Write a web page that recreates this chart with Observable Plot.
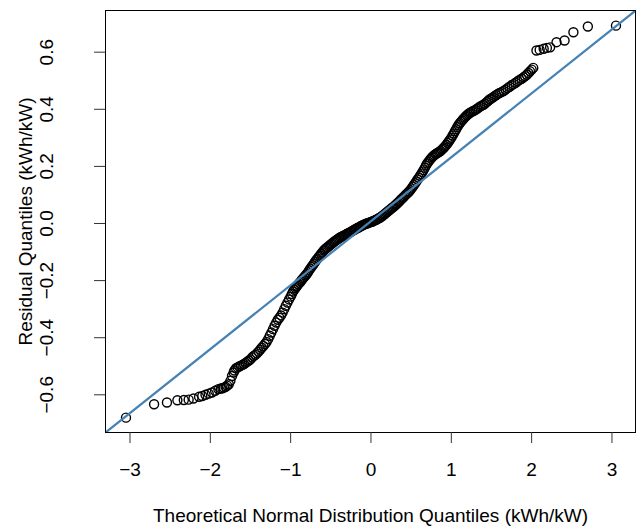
<!DOCTYPE html>
<html>
<head>
<meta charset="utf-8">
<script src="https://cdn.jsdelivr.net/npm/d3@7"></script>
<script src="https://cdn.jsdelivr.net/npm/@observablehq/plot@0.6"></script>
<style>
  html, body { margin: 0; padding: 0; background: #fff; }
  #chart svg { display: block; }
</style>
</head>
<body>
<div id="chart"></div>
<script>
// Lower tail: theoretical quantiles (x) and residual quantiles (y)
const lowTailX = [
  -3.05, -2.70, -2.54, -2.41, -2.33, -2.27, -2.21, -2.14, -2.10, -2.06,
  -2.02, -1.98, -1.94, -1.90, -1.87, -1.85, -1.83, -1.81, -1.79, -1.77,
  -1.75, -1.73, -1.71
];
const lowTailY = [
  -0.680, -0.633, -0.627, -0.619, -0.618, -0.617, -0.613, -0.607, -0.604, -0.600,
  -0.596, -0.592, -0.586, -0.580, -0.578, -0.577, -0.575, -0.572, -0.568, -0.563,
  -0.551, -0.534, -0.522
];
// Lower band
const lowBandX = [
  -1.70, -1.68, -1.66, -1.64, -1.62, -1.60, -1.58, -1.56, -1.54, -1.52,
  -1.50, -1.48, -1.46, -1.44, -1.42, -1.40, -1.38, -1.36, -1.34, -1.32,
  -1.30, -1.28, -1.26, -1.24, -1.22, -1.20, -1.18, -1.16, -1.14, -1.12,
  -1.10, -1.08, -1.06, -1.04, -1.02
];
const lowBandY = [
  -0.515, -0.507, -0.504, -0.501, -0.498, -0.495, -0.492, -0.488, -0.484, -0.480,
  -0.476, -0.469, -0.464, -0.460, -0.455, -0.449, -0.442, -0.435, -0.429, -0.422,
  -0.415, -0.405, -0.393, -0.382, -0.370, -0.358, -0.347, -0.337, -0.330, -0.322,
  -0.312, -0.300, -0.288, -0.277, -0.266
];
// Central band
const midBandX = [
  -1.00, -0.985, -0.97, -0.955, -0.94, -0.93, -0.92, -0.905, -0.89, -0.875,
  -0.86, -0.845, -0.83, -0.815, -0.80, -0.785, -0.77, -0.755, -0.74, -0.725,
  -0.71, -0.695, -0.68, -0.665, -0.65, -0.635, -0.62, -0.605, -0.59, -0.575,
  -0.56, -0.545, -0.53, -0.515, -0.50, -0.485, -0.47, -0.455, -0.44, -0.425,
  -0.41, -0.395, -0.38, -0.365, -0.35, -0.335, -0.32, -0.305, -0.29, -0.275,
  -0.26, -0.245, -0.23, -0.215, -0.20, -0.185, -0.17, -0.155, -0.14, -0.125,
  -0.11, -0.095, -0.08, -0.065, -0.05, -0.035, -0.02, -0.005, 0.01, 0.025,
  0.04, 0.055, 0.07, 0.085, 0.10, 0.115, 0.13, 0.145, 0.16, 0.175,
  0.19, 0.205, 0.22, 0.235, 0.25, 0.265, 0.28, 0.295, 0.31, 0.325,
  0.34, 0.355, 0.37, 0.385, 0.40, 0.415, 0.43, 0.445, 0.46, 0.475,
  0.49, 0.505, 0.52, 0.535, 0.55, 0.565, 0.58, 0.595, 0.61, 0.625,
  0.64, 0.655, 0.67, 0.685, 0.70, 0.715, 0.73, 0.745, 0.76, 0.775,
  0.79, 0.805, 0.82, 0.835, 0.85, 0.865, 0.88, 0.895, 0.91, 0.925,
  0.94, 0.955, 0.97, 0.985, 1.00
];
const midBandY = [
  -0.256, -0.247, -0.238, -0.232, -0.226, -0.222, -0.218, -0.213, -0.208, -0.203,
  -0.197, -0.192, -0.187, -0.182, -0.177, -0.171, -0.164, -0.158, -0.152, -0.146,
  -0.140, -0.134, -0.128, -0.123, -0.117, -0.112, -0.106, -0.101, -0.095, -0.091,
  -0.087, -0.084, -0.080, -0.077, -0.073, -0.070, -0.066, -0.063, -0.060, -0.057,
  -0.054, -0.051, -0.048, -0.046, -0.044, -0.042, -0.040, -0.037, -0.035, -0.033,
  -0.031, -0.028, -0.026, -0.023, -0.021, -0.018, -0.016, -0.014, -0.012, -0.009,
  -0.007, -0.005, -0.003, -0.001, 0.000, 0.002, 0.003, 0.005, 0.006, 0.008,
  0.010, 0.012, 0.014, 0.016, 0.019, 0.021, 0.024, 0.027, 0.031, 0.034,
  0.038, 0.041, 0.045, 0.048, 0.052, 0.055, 0.058, 0.062, 0.066, 0.070,
  0.074, 0.078, 0.083, 0.087, 0.091, 0.095, 0.100, 0.104, 0.108, 0.112,
  0.117, 0.123, 0.129, 0.135, 0.141, 0.147, 0.154, 0.160, 0.167, 0.173,
  0.180, 0.187, 0.195, 0.203, 0.210, 0.216, 0.222, 0.227, 0.232, 0.236,
  0.240, 0.243, 0.246, 0.248, 0.251, 0.254, 0.258, 0.262, 0.266, 0.271,
  0.276, 0.282, 0.288, 0.294, 0.300
];
// Upper band
const upBandX = [
  1.015, 1.03, 1.045, 1.06, 1.075, 1.09, 1.105, 1.12, 1.135, 1.15,
  1.165, 1.18, 1.195, 1.21, 1.225, 1.24, 1.26, 1.28, 1.30, 1.32,
  1.34, 1.36, 1.38, 1.40, 1.42, 1.44, 1.46, 1.48, 1.50, 1.52,
  1.54, 1.56, 1.58, 1.60, 1.625, 1.65, 1.675, 1.70, 1.725, 1.75,
  1.775, 1.80, 1.825, 1.85, 1.875, 1.90, 1.92, 1.94, 1.96, 1.98,
  2.00, 2.02
];
const upBandY = [
  0.308, 0.315, 0.323, 0.330, 0.338, 0.345, 0.351, 0.356, 0.361, 0.366,
  0.371, 0.375, 0.379, 0.383, 0.386, 0.389, 0.392, 0.395, 0.398, 0.402,
  0.406, 0.410, 0.413, 0.416, 0.420, 0.425, 0.430, 0.435, 0.438, 0.442,
  0.446, 0.450, 0.454, 0.457, 0.460, 0.464, 0.469, 0.474, 0.479, 0.484,
  0.488, 0.493, 0.498, 0.503, 0.507, 0.512, 0.516, 0.521, 0.527, 0.533,
  0.539, 0.545
];
// Upper tail
const upTailX = [2.06, 2.10, 2.15, 2.19, 2.23, 2.31, 2.41, 2.52, 2.70, 3.05];
const upTailY = [0.606, 0.608, 0.612, 0.615, 0.617, 0.635, 0.641, 0.670, 0.690, 0.693];

// Reference (qqline) parameters
const lineIntercept = 0.008;
const lineSlope = 0.224;

const xTicks = [-3, -2, -1, 0, 1, 2, 3];
const yTicks = [-0.6, -0.4, -0.2, 0.0, 0.2, 0.4, 0.6];
const xTitle = "Theoretical Normal Distribution Quantiles (kWh/kW)";
const yTitle = "Residual Quantiles (kWh/kW)";

const segs = [[lowTailX, lowTailY], [lowBandX, lowBandY], [midBandX, midBandY], [upBandX, upBandY], [upTailX, upTailY]];
const points = segs.flatMap(([xs, ys]) => xs.map((x, i) => ({x, y: ys[i]})));
const xDomain = [-3.305, 3.293];
const yDomain = [-0.732, 0.746];
const lineData = xDomain.map(x => ({x, y: lineIntercept + lineSlope * x}));
const minus = s => s.replace("-", "\u2212");
const FS = 19;

const chart = Plot.plot({
  width: 641,
  height: 528,
  marginLeft: 105,
  marginRight: 6,
  marginTop: 10,
  marginBottom: 96,
  x: {domain: xDomain},
  y: {domain: yDomain},
  style: {fontFamily: "'Liberation Sans', Arial, Helvetica, sans-serif", fontSize: FS + "px", background: "#fff", color: "#000"},
  marks: [
    Plot.dot(points, {x: "x", y: "y", r: 4.5, stroke: "#000", strokeWidth: 1.4, fill: "none"}),
    Plot.line(lineData, {x: "x", y: "y", stroke: "#4682B4", strokeWidth: 2.2, clip: true}),
    Plot.frame({stroke: "#000", strokeWidth: 1}),
    Plot.axisX(xTicks, {tickSize: 11, tickPadding: 19, label: null, stroke: "#333",
      tickFormat: d => minus(String(d)), fill: "#000", fontSize: FS}),
    Plot.axisY(yTicks, {tickSize: 11, label: null, stroke: "#333", tickFormat: () => ""}),
    Plot.text(yTicks, {y: d => d, frameAnchor: "left", dx: -59, rotate: -90,
      textAnchor: "middle", lineAnchor: "middle",
      text: d => minus(d.toFixed(1)), fill: "#000", fontSize: FS}),
    Plot.text([xTitle], {frameAnchor: "bottom", dy: 83, textAnchor: "middle", lineAnchor: "middle",
      text: d => d, fill: "#000", fontSize: FS}),
    Plot.text([yTitle], {frameAnchor: "left", dx: -80, rotate: -90, textAnchor: "middle", lineAnchor: "middle",
      text: d => d, fill: "#000", fontSize: FS})
  ]
});
document.getElementById("chart").appendChild(chart);
</script>
</body>
</html>
